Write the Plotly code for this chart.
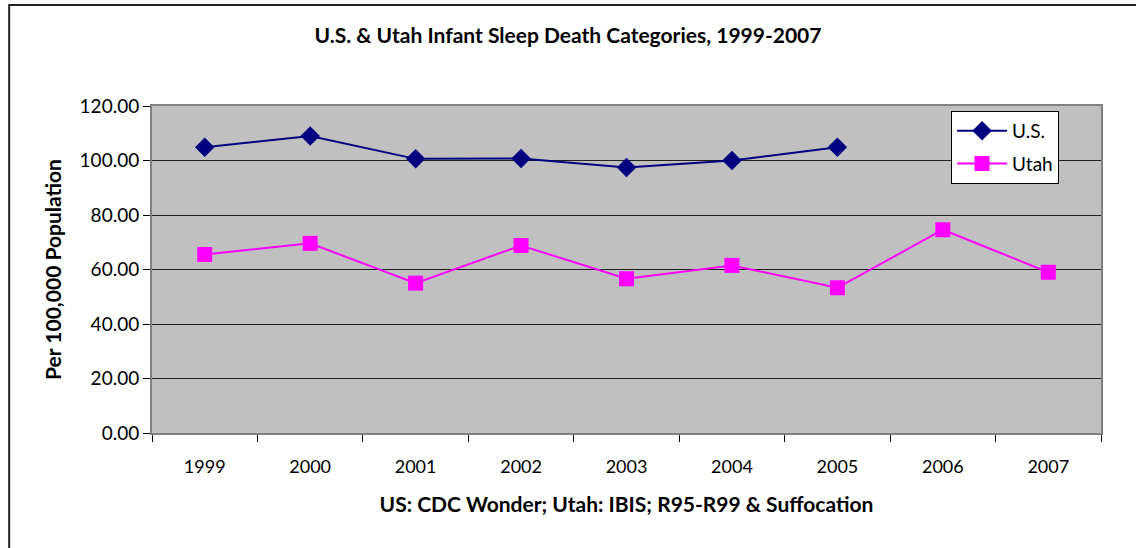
import plotly.graph_objects as go

years = ["1999", "2000", "2001", "2002", "2003", "2004", "2005", "2006", "2007"]
us_values = [104.9, 109.0, 100.6, 100.7, 97.4, 100.0, 104.9, None, None]
utah_values = [65.5, 69.6, 55.0, 68.8, 56.6, 61.5, 53.3, 74.6, 59.0]
y_ticks = [0, 20, 40, 60, 80, 100, 120]
y_tick_labels = [f"{v:.2f}" for v in y_ticks]

FONT = "Lato"

fig = go.Figure()
fig.add_trace(go.Scatter(
    x=years, y=us_values, name="U.S.", mode="lines+markers", legendgroup="us",
    line=dict(color="#000080", width=2),
    marker=dict(symbol="diamond", size=15, color="#000080"),
))
fig.add_trace(go.Scatter(
    x=years, y=utah_values, name="Utah", mode="lines+markers", legendgroup="ut",
    line=dict(color="#FF00FF", width=2),
    marker=dict(symbol="square", size=15, color="#FF00FF"),
))

H, T, B = 548, 106, 115
plot_h = H - T - B
border_top_px = 4
y_top = 1 + (T - border_top_px) / plot_h

border = dict(color="#222222", width=2)
fig.update_layout(
    width=1136, height=H,
    margin=dict(l=152, r=35, t=T, b=B),
    paper_bgcolor="white",
    plot_bgcolor="#C0C0C0",
    font=dict(family=FONT, size=18, color="black"),
    title=dict(text="<b>U.S. & Utah Infant Sleep Death Categories, 1999-2007</b>",
               x=0.5, xanchor="center", y=1 - 36 / H, yanchor="middle",
               font=dict(size=21, family=FONT)),
    showlegend=True,
    legend=dict(x=0.842, y=0.985, xanchor="left", yanchor="top",
                bgcolor="white", bordercolor="black", borderwidth=1,
                tracegroupgap=5, itemwidth=50,
                font=dict(size=19, family=FONT)),
    shapes=[
        dict(type="rect", xref="paper", yref="paper",
             x0=-0.1505, x1=1.06, y0=y_top, y1=y_top - 0.006,
             line=dict(width=0), fillcolor="#222222", layer="above"),
        dict(type="line", xref="paper", yref="paper",
             x0=-0.1505, x1=-0.1505, y0=-0.4, y1=y_top, line=border, layer="above"),
    ],
)

fig.update_xaxes(
    type="category", categoryorder="array", categoryarray=years,
    range=[-0.5, len(years) - 0.5],
    tickson="boundaries", ticks="outside", ticklen=7, tickcolor="black",
    showgrid=False, showline=True, linecolor="#808080", linewidth=2, mirror=True,
    tickfont=dict(size=18), ticklabelstandoff=16,
    title=dict(text="<b>US: CDC Wonder; Utah: IBIS; R95-R99 & Suffocation</b>",
               font=dict(size=21), standoff=22),
)
fig.update_yaxes(
    range=[0, 120], tickvals=y_ticks, ticktext=y_tick_labels,
    ticks="outside", ticklen=7, tickcolor="black",
    showgrid=True, gridcolor="#222222", gridwidth=1,
    showline=True, linecolor="#808080", linewidth=2, mirror=True,
    zeroline=False, tickfont=dict(size=19),
    title=dict(text="<b>Per 100,000 Population</b>", font=dict(size=21), standoff=12),
)

fig.write_html("out.html", config={"displayModeBar": False},
               post_script="document.body.style.margin='0';")
